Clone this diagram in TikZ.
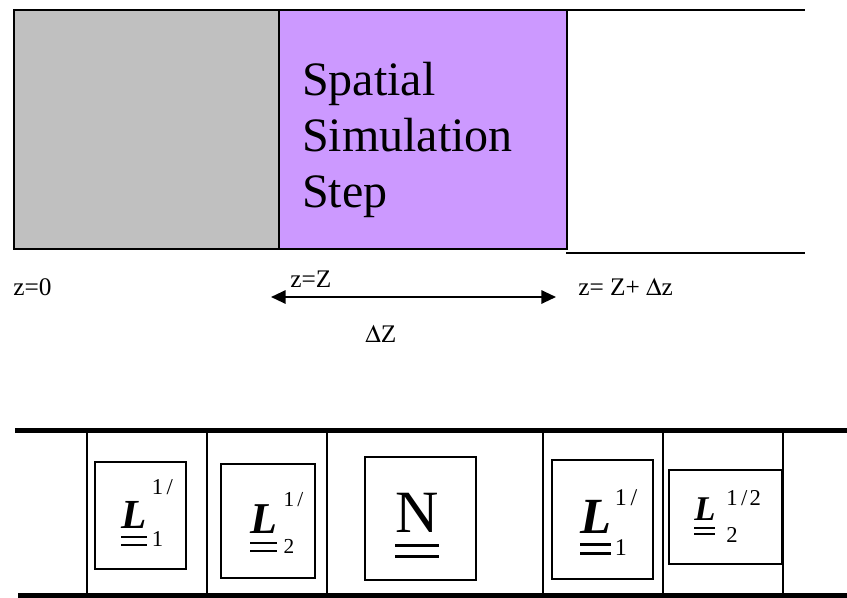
\documentclass[tikz,border=0pt]{standalone}
\usepackage{amsmath}
\usepackage{mathptmx}
\usepackage[no-math]{fontspec}
\setmainfont{Liberation Serif}
\usetikzlibrary{arrows.meta}
\definecolor{stepgray}{HTML}{C0C0C0}
\definecolor{steppurple}{HTML}{CC99FF}
% double underline, two rules below the baseline
\newcommand{\dul}[1]{\setbox0\hbox{#1}\rlap{\rule[-0.25em]{\wd0}{0.05em}}\rlap{\rule[-0.43em]{\wd0}{0.05em}}\box0}
% operator: sub, sup, drop, raise, script size, script offset
\newcommand{\lop}[6]{\rlap{\dul{\textbf{\textit{L}}}}\kern#6\rlap{\raisebox{-#3}{\fontsize{#5}{#5}\selectfont #1}}\raisebox{#4}{\fontsize{#5}{#5}\selectfont #2}}
\newcommand{\half}{1\kern.15em/\kern.1em}

\begin{document}
\begin{tikzpicture}[x=0.75pt,y=-0.75pt]
\useasboundingbox (0,0) rectangle (847,597);
% spatial step
\draw[line width=1.5pt] (14,10) -- (805,10);
\filldraw[fill=stepgray,line width=1.5pt] (14,10) rectangle (279,249);
\filldraw[fill=steppurple,line width=1.5pt] (279,10) rectangle (567,249);
\draw[line width=1.5pt] (566,253) -- (805,253);
\node[anchor=north west,align=left,inner sep=0,font=\fontsize{36}{42}\selectfont] (step) at (302,62) {Spatial\\ Simulation\\ Step};
\node[anchor=base west,inner sep=0,font=\fontsize{19}{22}\selectfont] (z0) at (13,295) {z=0};
\node[anchor=base west,inner sep=0,font=\fontsize{19}{22}\selectfont] (zZ) at (290,287) {z=Z};
\node[anchor=base west,inner sep=0,font=\fontsize{19}{22}\selectfont] (zZdz) at (578,295) {z= Z+ $\Delta$z};
\node[anchor=base west,inner sep=0,font=\fontsize{19}{22}\selectfont] (dZ) at (365,342) {$\Delta$Z};
\coordinate (dzl) at (271,297);
\coordinate (dzr) at (556,297);
\draw[line width=1.5pt,{Triangle[length=11pt,width=10pt]}-{Triangle[length=11pt,width=10pt]}] (dzl) -- (dzr);
% splitting scheme
\draw[line width=3.75pt] (15,430) -- (847,430);
\draw[line width=3.75pt] (18,595.5) -- (847,595.5);
\foreach \xv in {87,207,327,543,663,783}
  \draw[line width=1.5pt] (\xv,430) -- (\xv,595.5);
\draw[line width=1.1pt] (95,462) rectangle (186,569);
\draw[line width=1.1pt] (221,464) rectangle (315,578);
\draw[line width=1.1pt] (365,457) rectangle (476,580);
\draw[line width=1.1pt] (552,460) rectangle (653,579);
\draw[line width=1.1pt] (669,470) rectangle (782,564);
\node[anchor=base west,inner sep=0,font=\fontsize{31}{34}\selectfont] (L1a) at (121,528) {\lop{1}{\half}{14pt}{25pt}{17pt}{23pt}};
\node[anchor=base west,inner sep=0,font=\fontsize{33}{36}\selectfont] (L2a) at (250,533) {\lop{2}{\half}{15pt}{20pt}{16pt}{25pt}};
\node[anchor=base west,inner sep=0,font=\fontsize{45}{50}\selectfont] (Nop) at (395,532) {\dul{N}};
\node[anchor=base west,inner sep=0,font=\fontsize{38}{42}\selectfont] (L1b) at (580,533) {\lop{1}{\half}{16.5pt}{21pt}{18pt}{26pt}};
\node[anchor=base west,inner sep=0,font=\fontsize{26}{29}\selectfont] (L2b) at (694,520) {\lop{2}{\half 2}{16.5pt}{11pt}{17pt}{24pt}};
\end{tikzpicture}
\end{document}
